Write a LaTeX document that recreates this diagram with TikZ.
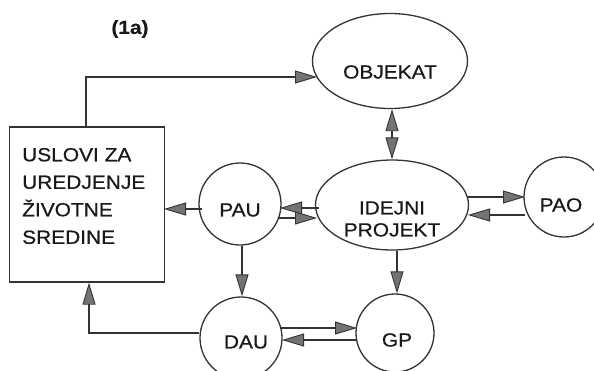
\documentclass[tikz,border=0pt]{standalone}
\usepackage{fontspec}
\setmainfont{Liberation Sans}[FakeStretch=1.1,FakeBold=0.6]
\usetikzlibrary{arrows.meta,shapes.geometric,calc}
\begin{document}
\begin{tikzpicture}[x=1pt,y=-1pt,
  ln/.style={draw=black!80,line width=1.3pt},
  arr/.style={ln,-{Triangle[length=22pt,width=13pt,fill=black!55,line width=0.9pt]}},
  barr/.style={ln,{Triangle[length=22pt,width=13pt,fill=black!55,line width=0.9pt]}-{Triangle[length=22pt,width=13pt,fill=black!55,line width=0.9pt]}},
  circ/.style={circle,ln,minimum size=#1,inner sep=0pt},
  ell/.style={ellipse,ln,inner sep=0pt},
  txt/.style={font=\fontsize{19}{23}\selectfont,inner sep=0pt,text=black!90}]
\useasboundingbox (0,0) rectangle (594,370);
\begin{scope}
\clip (0,0) rectangle (594,370);
% shapes
\node[draw=black!80,line width=1.3pt,minimum width=155pt,minimum height=155pt,inner sep=0pt] (box) at (87,204.5) {};
\node[ell,minimum width=155pt,minimum height=95pt] (obj) at (390,61) {};
\node[ell,minimum width=153pt,minimum height=90pt] (ide) at (392,205) {};
\node[circ=82pt] (pau) at (240,204) {};
\node[circ=80pt] (pao) at (564,197) {};
\node[circ=82pt] (dau) at (241,338) {};
\node[circ=78pt] (gp) at (395,333) {};
% texts
\node[txt,font=\fontsize{19}{23}\selectfont\bfseries] (lbl) at (130,29) {(1a)};
\node[txt,align=left,anchor=west,font=\fontsize{19}{27.5}\selectfont] (boxt) at (22,196) {USLOVI ZA\\UREDJENJE\\ŽIVOTNE\\SREDINE};
\node[txt] (objt) at (390,72) {OBJEKAT};
\node[txt,align=center,font=\fontsize{19}{22}\selectfont] (idet) at (392,219) {IDEJNI\\PROJEKT};
\node[txt] (paut) at (240,210) {PAU};
\node[txt] (paot) at (561,205) {PAO};
\node[txt] (daut) at (246,342) {DAU};
\node[txt] (gpt) at (397,340) {GP};
% connector points
\coordinate (c1) at (86,77);
\coordinate (c1e) at (317,77);
\coordinate (c2) at (89,333);
\coordinate (p1) at (202,209);
\coordinate (p1e) at (164,209);
\coordinate (a1) at (319,208);
\coordinate (a1e) at (280,208);
\coordinate (a2) at (278,218);
\coordinate (a2e) at (317,218);
\coordinate (b1) at (467,197);
\coordinate (b1e) at (525,197);
\coordinate (b2) at (525,215);
\coordinate (b2e) at (468,215);
\coordinate (d1) at (280,328);
\coordinate (d1e) at (357,328);
\coordinate (d2) at (357,340);
\coordinate (d2e) at (282,340);
% connectors
\draw[arr] (box.north -| c1) -- (c1) -- (c1e);
\draw[barr] (obj.south -| 392,0) -- (ide.north -| 392,0);
\draw[arr] (a1) -- (a1e);
\draw[arr] (a2) -- (a2e);
\draw[arr] (b1) -- (b1e);
\draw[arr] (b2) -- (b2e);
\draw[arr] (ide.south -| 397,0) -- (gp.north -| 397,0);
\draw[arr] (p1) -- (p1e);
\draw[arr] (pau.south -| 242,0) -- (dau.north -| 242,0);
\draw[arr] (dau.west |- c2) -- (c2) -- (c2 |- box.south);
\draw[arr] (d1) -- (d1e);
\draw[arr] (d2) -- (d2e);
\end{scope}
\end{tikzpicture}
\end{document}
